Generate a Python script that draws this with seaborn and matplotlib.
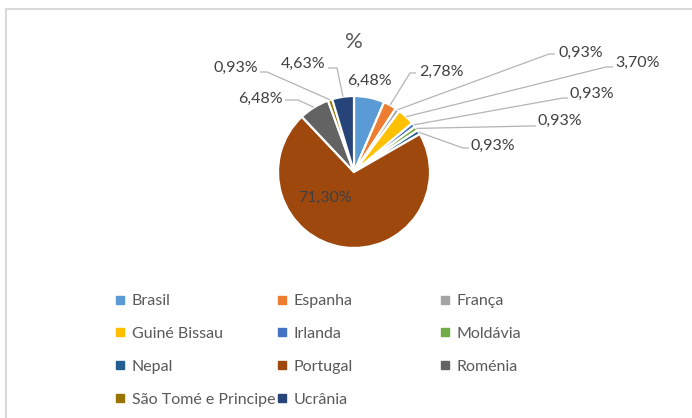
import matplotlib
matplotlib.use("Agg")
import matplotlib.pyplot as plt
import seaborn as sns
import numpy as np
from matplotlib.lines import Line2D

# ---- data ----
countries = ["Brasil", "Espanha", "França", "Guiné Bissau", "Irlanda", "Moldávia",
             "Nepal", "Portugal", "Roménia", "São Tomé e Principe", "Ucrânia"]
shares = [6.48, 2.78, 0.93, 3.70, 0.93, 0.93, 0.93, 71.30, 6.48, 0.93, 4.63]
colors = ["#5B9BD5", "#ED7D31", "#A5A5A5", "#FFC000", "#4472C4", "#70AD47",
          "#255E91", "#9E480E", "#636363", "#997300", "#264478"]
title = "%"

# ---- layout (pixels in a 692x418 image) ----
W, H = 692, 418
CX, CY, R = 354, 172, 76
label_centers = {
    "Brasil": (369, 81), "Espanha": (441, 72), "França": (581, 53),
    "Guiné Bissau": (638, 63), "Irlanda": (592, 94), "Moldávia": (560, 121),
    "Nepal": (493, 146), "Portugal": (325, 198), "Roménia": (260, 99),
    "São Tomé e Principe": (236, 68), "Ucrânia": (303, 64),
}
leader_paths = {
    "Espanha": [(410, 73), (416, 73)],
    "França": [(549, 54), (555, 54)],
    "Guiné Bissau": [(606, 67), (613, 67)],
    "Irlanda": [(563, 98), (568, 98)],
    "Moldávia": [(531, 126), (536, 126)],
    "Nepal": [(463, 148), (469, 148)],
    "Roménia": [(298, 100), (285, 100)],
    "São Tomé e Principe": [(267, 72), (260, 72)],
    "Ucrânia": [(337, 68), (328, 68)],
}

sns.set_theme(style="white")
plt.rcParams["font.family"] = ["Lato", "DejaVu Sans"]


def px2d(p):
    return ((p[0] - CX) / R, (CY - p[1]) / R)


fig = plt.figure(figsize=(W / 100, H / 100), dpi=100)
fig.patch.set_facecolor("white")
ax = fig.add_axes([0, 0, 1, 1])
wedges, _ = ax.pie(shares, colors=colors, startangle=90, counterclock=False,
                   radius=1, wedgeprops=dict(edgecolor="white", linewidth=1.6))
ax.set_xlim(-CX / R, (W - CX) / R)
ax.set_ylim(-(H - CY) / R, CY / R)
ax.set_aspect("auto")
ax.axis("off")

for name, w, v in zip(countries, wedges, shares):
    txt = f"{v:.2f}".replace(".", ",") + "%"
    x, y = px2d(label_centers[name])
    ax.text(x, y, txt, ha="center", va="center", fontsize=11.5, color="#404040")
    if name in leader_paths:
        th = np.deg2rad((w.theta1 + w.theta2) / 2)
        pts = [(np.cos(th), np.sin(th))] + [px2d(p) for p in leader_paths[name]]
        xs, ys = zip(*pts)
        ax.plot(xs, ys, color="#B4B4B4", lw=0.9, solid_capstyle="butt")

fig.text(CX / W, 1 - 42 / H, title, ha="center", va="center", fontsize=16, color="#595959")

# legend: three columns, row-major order
col_x = [115, 277, 440]
for j in range(3):
    idx = list(range(j, len(countries), 3))
    handles = [Line2D([], [], marker="s", ls="", color=colors[i], markersize=6) for i in idx]
    fig.legend(handles, [countries[i] for i in idx], loc="upper left",
               bbox_to_anchor=(col_x[j] / 100, (H - 294) / 100),
               bbox_transform=fig.dpi_scale_trans, frameon=False,
               fontsize=11.5, labelcolor="#595959", handlelength=0.65,
               handletextpad=0.4, borderpad=0, borderaxespad=0, labelspacing=1.17)

# chart frame edges visible in the crop
fig.add_artist(Line2D([6 / W, 1], [1 - 9 / H, 1 - 9 / H], transform=fig.transFigure,
                      color="#D9D9D9", lw=1.5))
fig.add_artist(Line2D([6 / W, 6 / W], [0, 1 - 9 / H], transform=fig.transFigure,
                      color="#D9D9D9", lw=1.5))

fig.savefig("out.png", dpi=100)
